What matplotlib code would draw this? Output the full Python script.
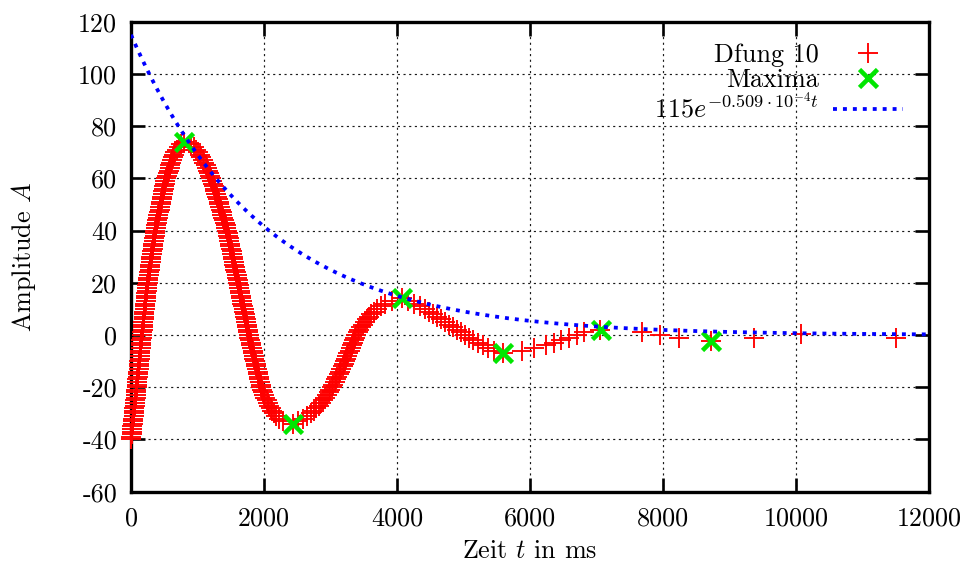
import numpy as np
import matplotlib
matplotlib.use("Agg")
import matplotlib.pyplot as plt

# ---------------- data ----------------
# measured series "Dfung 10": time in ms and amplitude
seg1_t = [0, 4, 9, 13, 17, 21, 26, 30, 34, 38, 43, 47, 51, 55, 60, 64, 68, 72, 77, 81,
          85, 89, 93, 97, 101, 105, 109, 113, 117, 121, 125, 129, 133, 137, 141, 145, 149, 153, 157, 161,
          165, 169, 174, 178, 182, 186, 191, 195, 199, 203, 208, 212, 216, 220, 225, 229, 233, 237, 242, 246,
          250, 256, 262, 267, 273, 279, 285, 290, 296, 302, 308, 313, 319, 325, 331, 336, 342, 348, 354, 359,
          365, 373, 381, 389, 397, 405, 413, 421, 429, 437, 445, 453, 461, 469, 477, 485, 493, 501, 509, 517,
          525, 539, 552, 566, 579, 593, 606, 620, 633, 647, 660, 685, 715, 750, 795]
seg1_a = [-40, -39, -38, -37, -36, -35, -34, -33, -32, -31, -30, -29, -28, -27, -26, -25, -24, -23, -22, -21,
          -20, -19, -18, -17, -16, -15, -14, -13, -12, -11, -10, -9, -8, -7, -6, -5, -4, -3, -2, -1,
          0, 1, 2, 3, 4, 5, 6, 7, 8, 9, 10, 11, 12, 13, 14, 15, 16, 17, 18, 19,
          20, 21, 22, 23, 24, 25, 26, 27, 28, 29, 30, 31, 32, 33, 34, 35, 36, 37, 38, 39,
          40, 41, 42, 43, 44, 45, 46, 47, 48, 49, 50, 51, 52, 53, 54, 55, 56, 57, 58, 59,
          60, 61, 62, 63, 64, 65, 66, 67, 68, 69, 70, 71, 72, 73, 74]

seg2_t = [900, 945, 980, 1010, 1033, 1056, 1079, 1102, 1125, 1142,
          1159, 1176, 1193, 1210, 1222, 1234, 1245, 1257, 1269, 1281,
          1292, 1304, 1316, 1328, 1339, 1351, 1363, 1375, 1386, 1398,
          1410, 1422, 1433, 1445, 1453, 1462, 1470, 1478, 1487, 1495,
          1504, 1512, 1520, 1529, 1537, 1545, 1554, 1562, 1570, 1579,
          1587, 1595, 1604, 1612, 1620, 1628, 1636, 1644, 1652, 1660,
          1668, 1676, 1684, 1692, 1700, 1708, 1716, 1724, 1732, 1740,
          1748, 1756, 1764, 1772, 1781, 1791, 1800, 1810, 1819, 1828,
          1838, 1847, 1857, 1866, 1875, 1885, 1894, 1904, 1913, 1922,
          1932, 1941, 1951, 1960, 1975, 1990, 2006, 2022, 2039, 2057,
          2077, 2099, 2124, 2150, 2185, 2230, 2290, 2430]
seg2_a = [73, 72, 71, 70, 69, 68, 67, 66, 65, 64,
          63, 62, 61, 60, 59, 58, 57, 56, 55, 54,
          53, 52, 51, 50, 49, 48, 47, 46, 45, 44,
          43, 42, 41, 40, 39, 38, 37, 36, 35, 34,
          33, 32, 31, 30, 29, 28, 27, 26, 25, 24,
          23, 22, 21, 20, 19, 18, 17, 16, 15, 14,
          13, 12, 11, 10, 9, 8, 7, 6, 5, 4,
          3, 2, 1, 0, -1, -2, -3, -4, -5, -6,
          -7, -8, -9, -10, -11, -12, -13, -14, -15, -16,
          -17, -18, -19, -20, -21, -22, -23, -24, -25, -26,
          -27, -28, -29, -30, -31, -32, -33, -34]

seg3_t = [2510, 2580, 2648, 2710, 2750, 2787, 2822, 2855, 2886, 2916,
          2944, 2971, 2998, 3025, 3045, 3064, 3084, 3103, 3123, 3142,
          3162, 3181, 3201, 3220, 3237, 3253, 3270, 3286, 3303, 3319,
          3336, 3352, 3369, 3385, 3407, 3431, 3457, 3484, 3513, 3544,
          3577, 3610, 3650, 3698, 3754, 3820, 3920, 4080]
seg3_a = [-33, -32, -31, -30, -29, -28, -27, -26, -25, -24,
          -23, -22, -21, -20, -19, -18, -17, -16, -15, -14,
          -13, -12, -11, -10, -9, -8, -7, -6, -5, -4,
          -3, -2, -1, 0, 1, 2, 3, 4, 5, 6,
          7, 8, 9, 10, 11, 12, 13, 14]

seg4_t = [4170, 4260, 4340, 4415, 4480, 4540, 4600, 4660, 4720, 4780,
          4840, 4900, 4960, 5020, 5085, 5150, 5220, 5290, 5370, 5460, 5595]
seg4_a = [13, 12, 11, 10, 9, 8, 7, 6, 5, 4,
          3, 2, 1, 0, -1, -2, -3, -4, -5, -6, -7]

seg5_t = [5875, 6060, 6235, 6360, 6470, 6590, 6700, 6810, 7060]
seg5_a = [-6, -5, -4, -3, -2, -1, 0, 1, 2]

tail_t = [7680, 7960, 8240, 8715, 9370, 10080, 11500]
tail_a = [1, 0, -1, -2.2, -1.2, 0.5, -1.2]

# extrema ("Maxima")
max_t = [795, 2430, 4080, 5595, 7065, 8715]
max_a = [74, -34, 14, -7, 1.9, -2.2]

# fitted envelope  A0 * exp(-k t)
fit_amp = 115.0
fit_rate = 5.09e-4
fit_label = r"$115e^{-0.509\cdot 10^{-4}t}$"

x_ticks = [0, 2000, 4000, 6000, 8000, 10000, 12000]
x_ticklabels = ["0", "2000", "4000", "6000", "8000", "10000", "12000"]
y_ticks = [-60, -40, -20, 0, 20, 40, 60, 80, 100, 120]
y_ticklabels = ["-60", "-40", "-20", "0", "20", "40", "60", "80", "100", "120"]

# ---------------- style ----------------
plt.rcParams["font.family"] = "serif"
plt.rcParams["font.serif"] = ["cmr10", "DejaVu Serif"]
plt.rcParams["mathtext.fontset"] = "cm"
plt.rcParams["axes.unicode_minus"] = False
plt.rcParams["axes.formatter.use_mathtext"] = True

FS = 18.8

fig = plt.figure(figsize=(9.72, 5.75), dpi=100)
ax = fig.add_axes([131 / 972, 1 - 491.7 / 575, (929 - 131) / 972, (491.7 - 21.7) / 575])

t_all = np.array(seg1_t + seg2_t + seg3_t + seg4_t + seg5_t + tail_t, dtype=float)
a_all = np.array(seg1_a + seg2_a + seg3_a + seg4_a + seg5_a + tail_a, dtype=float)

ax.plot(t_all, a_all, linestyle="none", marker="+", markersize=14.5,
        markeredgewidth=1.35, color="#ff0000", label="Dfung 10", zorder=3, clip_on=False)
ax.plot(max_t, max_a, linestyle="none", marker="x", markersize=13.5,
        markeredgewidth=3.3, color="#00e600", label="Maxima", zorder=4)
t_fit = np.linspace(0, 12000, 600)
ax.plot(t_fit, fit_amp * np.exp(-fit_rate * t_fit), color="#0000ff", linewidth=2.7,
        linestyle=(0, (1.05, 1.6)), dash_capstyle="butt", label=fit_label, zorder=5)

ax.set_xlim(0, 12000)
ax.set_ylim(-60, 120)
ax.set_xticks(x_ticks)
ax.set_xticklabels(x_ticklabels)
ax.set_yticks(y_ticks)
ax.set_yticklabels(y_ticklabels)

ax.grid(True, color="black", linewidth=0.85, linestyle=(0, (1.8, 3.0)), alpha=0.9)
ax.set_axisbelow(True)

for s in ax.spines.values():
    s.set_linewidth(2.4)
ax.tick_params(direction="in", length=10, width=1.9, top=True, right=True,
               labelsize=FS, pad=10)
ax.tick_params(axis="x", pad=11)

ax.set_xlabel(r"Zeit $t$ in ms", fontsize=FS, labelpad=6)
ax.set_ylabel(r"Amplitude $A$", fontsize=FS, labelpad=29)

leg = ax.legend(loc="upper right", bbox_to_anchor=(0.968, 0.954), frameon=False,
                markerfirst=False, fontsize=FS, handlelength=2.7, handletextpad=0.55,
                labelspacing=0.04, borderpad=0, borderaxespad=0, numpoints=1)

fig.savefig("out.png", dpi=100)
